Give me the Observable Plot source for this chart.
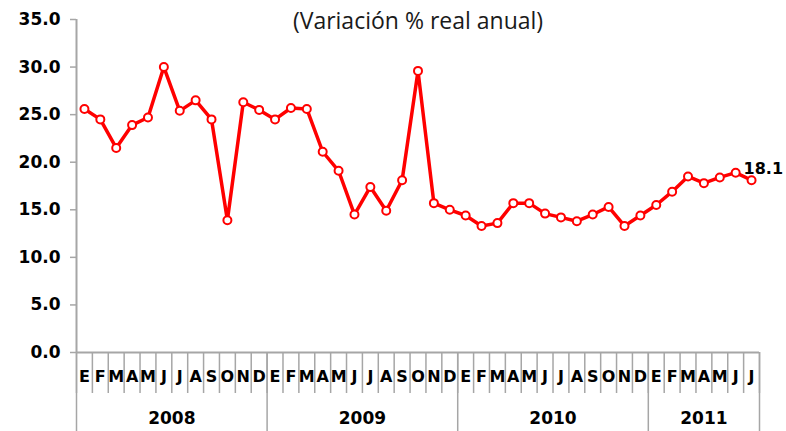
<!DOCTYPE html>
<html>
<head>
<meta charset="utf-8">
<script src="https://cdn.jsdelivr.net/npm/d3@7"></script>
<script src="https://cdn.jsdelivr.net/npm/@observablehq/plot@0.6"></script>
<style>
  html, body { margin: 0; padding: 0; background: #fff; }
  #chart svg { display: block; }
</style>
</head>
<body>
<div id="chart"></div>
<script>
const title = "(Variación % real anual)";
const monthNames = ["E","F","M","A","M","J","J","A","S","O","N","D"];
const years = ["2008", "2009", "2010", "2011"];
const monthsPerYear = [12, 12, 12, 7];
const values = [
  25.6, 24.5, 21.5, 23.9, 24.7, 30.0, 25.4, 26.5, 24.5, 13.9, 26.3, 25.5,
  24.5, 25.7, 25.6, 21.1, 19.1, 14.5, 17.4, 14.9, 18.1, 29.6, 15.7, 15.0,
  14.4, 13.3, 13.6, 15.7, 15.7, 14.6, 14.2, 13.8, 14.5, 15.3, 13.3, 14.4,
  15.5, 16.9, 18.5, 17.8, 18.4, 18.9, 18.1
];
const yTicks = [0, 5, 10, 15, 20, 25, 30, 35];
const lastLabel = "18.1";

// derived tables
const monthLabels = monthsPerYear.flatMap(n => monthNames.slice(0, n));
const n = values.length;
const series = values.map((v, i) => ({i: i + 0.5, v}));
let acc = 0;
const yearStarts = [0];
const yearCenters = [];
monthsPerYear.forEach(m => { yearCenters.push(acc + m / 2); acc += m; yearStarts.push(acc); });
const boundaries = d3.range(0, n + 1);

const W = 786, H = 431;
const mL = 76, mR = 27, mT = 19, mB = 79;
const frameH = H - mT - mB, frameW = W - mL - mR;
const axisGray = "#a6a6a6";
const red = "#ff0000";
const boldFont = "'DejaVu Sans', sans-serif";

const chart = Plot.plot({
  width: W, height: H,
  marginLeft: mL, marginRight: mR, marginTop: mT, marginBottom: mB,
  style: {fontFamily: boldFont, background: "#fff", color: "#000"},
  x: {domain: [0, n], axis: null},
  y: {domain: [0, 35], axis: null},
  marks: [
    // axes lines
    Plot.ruleX([0], {stroke: axisGray, strokeWidth: 2}),
    Plot.ruleY([0], {stroke: axisGray, strokeWidth: 2}),
    Plot.ruleY(yTicks, {y: d => d, stroke: axisGray, strokeWidth: 1.5, insetLeft: -6, insetRight: frameW}),
    Plot.ruleX(boundaries, {x: d => d, stroke: axisGray, strokeWidth: 1.5, insetTop: frameH, insetBottom: -41}),
    Plot.ruleX(yearStarts, {x: d => d, stroke: axisGray, strokeWidth: 1.5, insetTop: frameH, insetBottom: -mB}),
    // y labels
    Plot.text(yTicks, {y: d => d, text: d => d.toFixed(1), frameAnchor: "left", textAnchor: "end", dx: -16,
      fontSize: 17, fontWeight: "bold", fill: "#000"}),
    // month labels
    Plot.text(monthLabels, {x: (d, i) => i + 0.5, text: d => d, frameAnchor: "bottom", dy: 29,
      fontSize: 16, fontWeight: "bold", fill: "#000"}),
    // year labels
    Plot.text(years, {x: (d, i) => yearCenters[i], text: d => d, frameAnchor: "bottom", dy: 71,
      fontSize: 17, fontWeight: "bold", fill: "#000"}),
    // title
    Plot.text([title], {text: d => d, frameAnchor: "top", dy: -7, fontSize: 23, fill: "#1a1a1a",
      fontFamily: "'Open Sans', sans-serif"}),
    // series
    Plot.line(series, {x: "i", y: "v", stroke: red, strokeWidth: 3.5, strokeLinejoin: "round"}),
    Plot.dot(series, {x: "i", y: "v", r: 4, fill: "#fff", stroke: red, strokeWidth: 2}),
    Plot.text([series[n - 1]], {x: "i", y: "v", text: () => lastLabel, textAnchor: "start", dx: -8, dy: -11,
      fontSize: 16, fontWeight: "bold", fill: "#000"})
  ]
});
document.getElementById("chart").appendChild(chart);
</script>
</body>
</html>
